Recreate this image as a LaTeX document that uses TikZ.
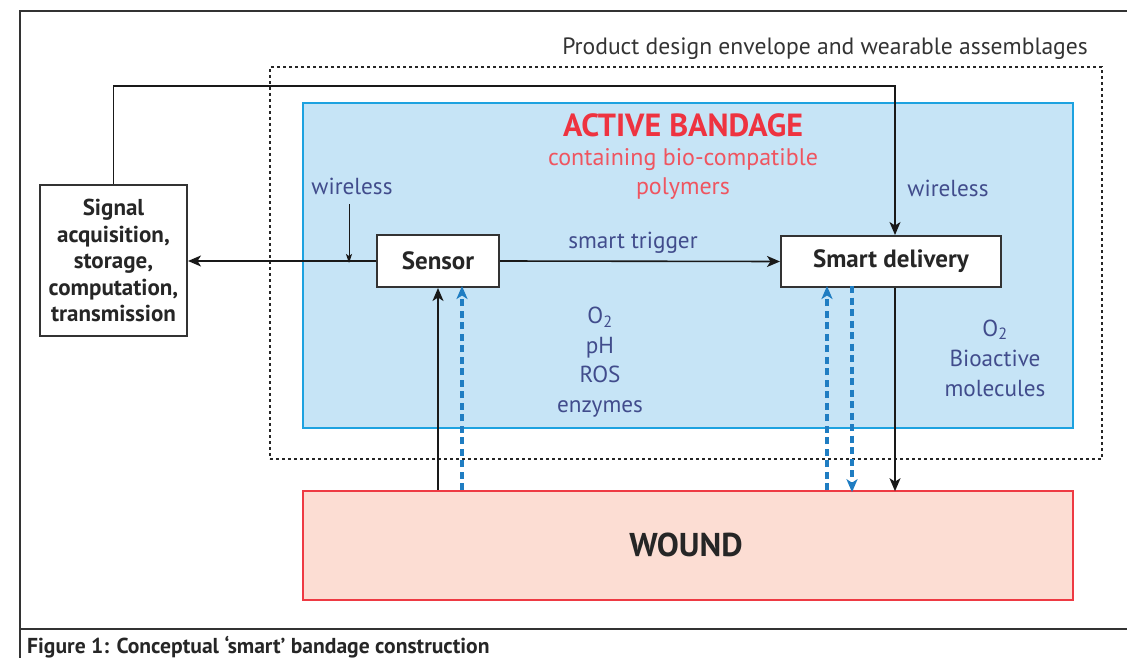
\documentclass[tikz,border=0pt]{standalone}
\usepackage{fontspec}
\setmainfont{PT Sans}
\usetikzlibrary{arrows.meta}
\definecolor{bandfill}{HTML}{C6E4F6}
\definecolor{banddraw}{HTML}{1DA2E0}
\definecolor{woundfill}{HTML}{FCDDD3}
\definecolor{wounddraw}{HTML}{EE3A43}
\definecolor{redtxt}{HTML}{EE3340}
\definecolor{redlight}{HTML}{EF5560}
\definecolor{navytxt}{HTML}{414C8C}
\definecolor{dashblue}{HTML}{1F7DC2}
\definecolor{framegray}{HTML}{333333}
\tikzset{
  boxstyle/.style={draw=framegray, line width=2pt, fill=white, inner sep=0pt, font=\fontsize{25}{30}\selectfont\bfseries, text=black!85},
  arr/.style={line width=1.6pt, draw=black!90, -{Stealth[length=13pt,width=11pt,inset=3.5pt]}},
  thinarr/.style={line width=1pt, draw=black!90, -{Stealth[length=9pt,width=6pt,inset=2pt]}},
  bluearr/.style={line width=3.2pt, draw=dashblue, dash pattern=on 7pt off 4.5pt, -{Stealth[length=13pt,width=11pt,inset=3.5pt]}},
  navy/.style={text=navytxt, font=\fontsize{23.2}{27}\selectfont, inner sep=0pt},
}
\begin{document}
\begin{tikzpicture}[x=1pt,y=-1pt]
\useasboundingbox (0,0) rectangle (1127,658);
% outer frame
\draw[line width=2pt, framegray] (1127,11) -- (20,11) -- (20,658);
\draw[line width=2.4pt, framegray] (20,629) -- (1127,629);
\node[anchor=base west, inner sep=0pt, font=\fontsize{21.6}{26}\selectfont\bfseries, text=black!85] (cap) at (27,653) {Figure 1: Conceptual ‘smart’ bandage construction};
% envelope
\node[draw=black!85, line width=1.4pt, dash pattern=on 3pt off 3pt, minimum width=832pt, minimum height=392pt, inner sep=0pt] (env) at (686,263) {};
\node[anchor=base east, inner sep=0pt, font=\fontsize{23.6}{28}\selectfont, text=black!80] (envlab) at (1088,55) {Product design envelope and wearable assemblages};
% bandage
\node[draw=banddraw, fill=bandfill, line width=1.6pt, minimum width=770pt, minimum height=325pt, inner sep=0pt] (band) at (688,265.5) {};
\node[anchor=base, inner sep=0pt, font=\fontsize{32}{38}\selectfont\bfseries, text=redtxt] (ab) at (683,137) {ACTIVE BANDAGE};
\node[anchor=base, inner sep=0pt, font=\fontsize{24}{28}\selectfont, text=redlight] (cont) at (683,165) {containing bio-compatible};
\node[anchor=base, inner sep=0pt, font=\fontsize{24}{28}\selectfont, text=redlight] (poly) at (683,194) {polymers};
% wound
\node[draw=wounddraw, fill=woundfill, line width=1.6pt, minimum width=770pt, minimum height=109pt, inner sep=0pt] (wound) at (688,545.5) {};
\node[inner sep=0pt, font=\fontsize{33}{38}\selectfont\bfseries, text=black!85] (wl) at (686,545) {WOUND};
% signal box
\node[boxstyle, minimum width=147pt, minimum height=151pt, align=center, font=\fontsize{23}{26.5}\selectfont\bfseries] (sig) at (113.5,260.5) {Signal\\acquisition,\\storage,\\computation,\\transmission};
% sensor and delivery
\node[boxstyle, minimum width=122pt, minimum height=52pt] (sensor) at (438,261) {Sensor};
\node[boxstyle, minimum width=220pt, minimum height=51pt] (deliv) at (891,261.5) {Smart delivery};
% labels
\node[navy, anchor=base] (wl1) at (352,194) {wireless};
\node[navy, anchor=base] (wl2) at (948,196) {wireless};
\node[navy, anchor=base] (st) at (633,248) {smart trigger};
\node[navy, align=center, font=\fontsize{23.2}{29.5}\selectfont] (sens) at (600,362) {O\textsubscript{2}\\pH\\ROS\\enzymes};
\node[navy, align=center, font=\fontsize{23.2}{30}\selectfont] (bio) at (995,358) {O\textsubscript{2}\\Bioactive\\molecules};
% connectors
\coordinate (topc) at (895,86);
\draw[arr] (sig.north) |- (topc) -- (topc |- deliv.north);
\draw[arr] (sensor.west) -- (sig.east |- sensor.west);
\coordinate (w1) at (349,204);
\draw[thinarr] (w1) -- ([yshift=-2pt]w1 |- sensor.west);
\draw[arr] (sensor.east) -- (deliv.west);
\draw[arr] (wound.north -| sensor.south) -- (sensor.south);
\coordinate (b1) at (462,0);
\draw[bluearr] (b1 |- wound.north) -- ([yshift=2pt]b1 |- sensor.south);
\coordinate (b2) at (827,0);
\coordinate (b3) at (852,0);
\draw[bluearr] (b2 |- wound.north) -- ([yshift=2pt]b2 |- deliv.south);
\draw[bluearr] ([yshift=2pt]b3 |- deliv.south) -- ([yshift=-2pt]b3 |- wound.north);
\draw[arr] (topc |- deliv.south) -- ([yshift=-1pt]topc |- wound.north);
\end{tikzpicture}
\end{document}
